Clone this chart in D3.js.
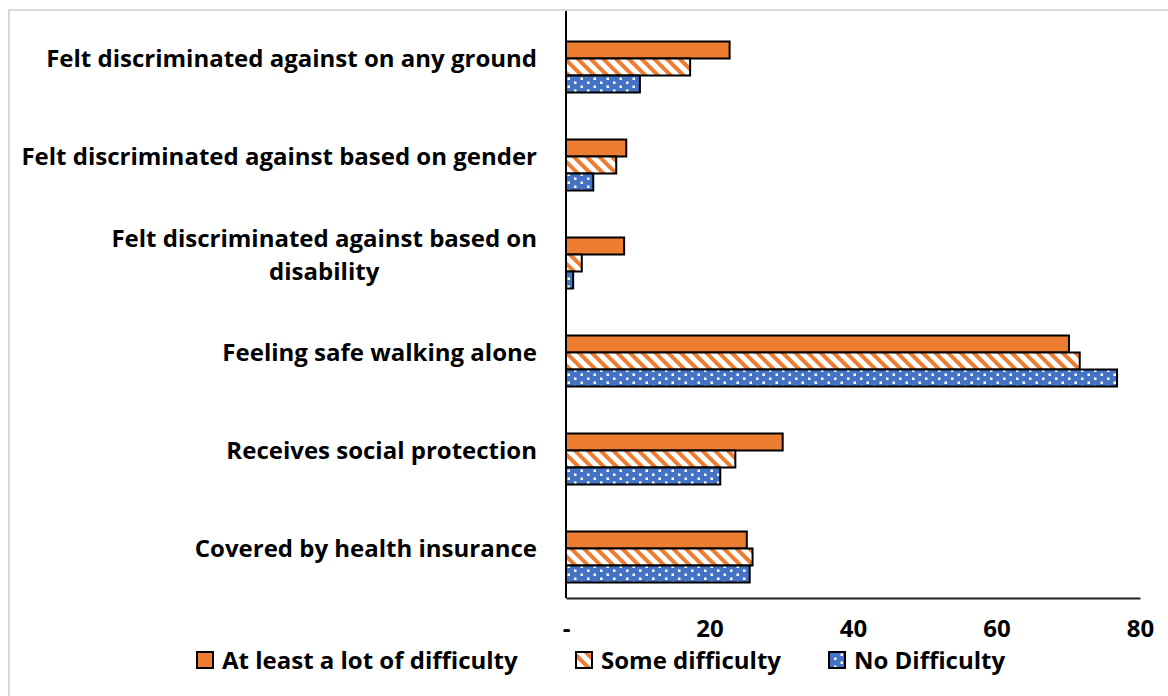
<!DOCTYPE html>
<html>
<head>
<meta charset="utf-8">
<script src="https://cdn.jsdelivr.net/npm/d3@7"></script>
<style>
  body { margin: 0; background: #fff; }
  text { font-family: "Open Sans", Lato, sans-serif; font-weight: 700; fill: #000; }
</style>
</head>
<body>
<div id="chart"></div>
<script>
var width = 1168, height = 696;

var categories = ["Felt discriminated against on any ground",
  "Felt discriminated against based on gender",
  "Felt discriminated against based on disability",
  "Feeling safe walking alone",
  "Receives social protection",
  "Covered by health insurance"];
var seriesNames = ["At least a lot of difficulty", "Some difficulty", "No Difficulty"];
var atLeastALot = [22.8, 8.4, 8.1, 70.1, 30.2, 25.2];
var someDifficulty = [17.3, 7.0, 2.2, 71.6, 23.6, 26.0];
var noDifficulty = [10.3, 3.8, 1.0, 76.8, 21.5, 25.6];
var xTicks = [0, 20, 40, 60, 80];

var series = [atLeastALot, someDifficulty, noDifficulty];
var fills = ["#ED7D31", "url(#hatch)", "url(#dots)"];
var fontSize = "24px";

var svg = d3.select("#chart")
  .append("svg")
    .attr("width", width)
    .attr("height", height);

// patterns
var defs = svg.append("defs");
var hatch = defs.append("pattern")
  .attr("id", "hatch")
  .attr("patternUnits", "userSpaceOnUse")
  .attr("width", 9).attr("height", 9)
  .attr("patternTransform", "rotate(45)");
hatch.append("rect").attr("width", 9).attr("height", 9).attr("fill", "#fff");
hatch.append("rect").attr("width", 9).attr("height", 4).attr("fill", "#ED7D31");

var dots = defs.append("pattern")
  .attr("id", "dots")
  .attr("patternUnits", "userSpaceOnUse")
  .attr("width", 13).attr("height", 8);
dots.append("rect").attr("width", 13).attr("height", 8).attr("fill", "#4472C4");
dots.append("rect").attr("x", 2).attr("y", 1.5).attr("width", 2.5).attr("height", 2.5).attr("fill", "#fff");
dots.append("rect").attr("x", 8.5).attr("y", 5.5).attr("width", 2.5).attr("height", 2.5).attr("fill", "#fff");

// outer frame
svg.append("path")
  .attr("d", "M9," + height + "V10H" + width)
  .attr("fill", "none")
  .attr("stroke", "#d9d9d9")
  .attr("stroke-width", 2);

var x = d3.scaleLinear()
  .domain([0, 80])
  .range([566, 1140]);

var y = d3.scaleBand()
  .domain(categories)
  .range([10, 598]);

var barH = 17;
var barOffset = 8;

// bars
series.forEach(function(vals, i) {
  svg.append("g")
    .selectAll("rect")
    .data(vals)
    .enter()
    .append("rect")
      .attr("x", x(0))
      .attr("y", function(d, j) { return y(categories[j]) + y.bandwidth() / 2 - 1.5 * barH + barOffset + i * barH; })
      .attr("width", function(d) { return x(d) - x(0); })
      .attr("height", barH)
      .attr("fill", fills[i])
      .attr("stroke", "#000")
      .attr("stroke-width", 2);
});

// axis lines
svg.append("line")
  .attr("x1", x(0)).attr("x2", x(0))
  .attr("y1", 11).attr("y2", 598)
  .attr("stroke", "#000").attr("stroke-width", 2);

var xAxis = svg.append("g")
  .attr("transform", "translate(0,598)")
  .call(d3.axisBottom(x).tickValues(xTicks).tickSize(0).tickPadding(22)
    .tickFormat(function(d) { return d === 0 ? "-" : d; }));
xAxis.select(".domain").attr("stroke", "#222").attr("stroke-width", 2);
xAxis.selectAll("text")
  .style("font-size", fontSize)
  .style("font-family", "'Open Sans', sans-serif")
  .style("font-weight", 700)
  .attr("fill", "#000");

// category labels (wrapped, right aligned block)
var labels = svg.append("g");
categories.forEach(function(c) {
  var t = labels.append("text")
    .style("font-size", fontSize)
    .attr("text-anchor", "middle");
  var words = c.split(" "), lines = [], line = [];
  var probe = t.append("tspan");
  words.forEach(function(w) {
    line.push(w);
    probe.text(line.join(" "));
    if (probe.node().getComputedTextLength() > 525 && line.length > 1) {
      line.pop();
      lines.push(line.join(" "));
      line = [w];
    }
  });
  lines.push(line.join(" "));
  probe.remove();
  var widths = [];
  var spans = lines.map(function(l) {
    var s = t.append("tspan").text(l);
    widths.push(s.node().getComputedTextLength());
    return s;
  });
  var blockW = d3.max(widths);
  var cx = 537 - blockW / 2;
  var lh = 33;
  var cy = y(c) + y.bandwidth() / 2 - (lines.length - 1) * lh / 2;
  spans.forEach(function(s, k) {
    s.attr("x", cx).attr("y", cy + k * lh).attr("dy", "0.35em");
  });
});

// legend
var legendX = [197, 576, 829];
var legend = svg.append("g");
seriesNames.forEach(function(n, i) {
  legend.append("rect")
    .attr("x", legendX[i]).attr("y", 652)
    .attr("width", 16).attr("height", 16)
    .attr("fill", fills[i])
    .attr("stroke", "#000").attr("stroke-width", 2);
  legend.append("text")
    .attr("x", legendX[i] + 25).attr("y", 661)
    .attr("dy", "0.35em")
    .style("font-size", fontSize)
    .text(n);
});
</script>
</body>
</html>
